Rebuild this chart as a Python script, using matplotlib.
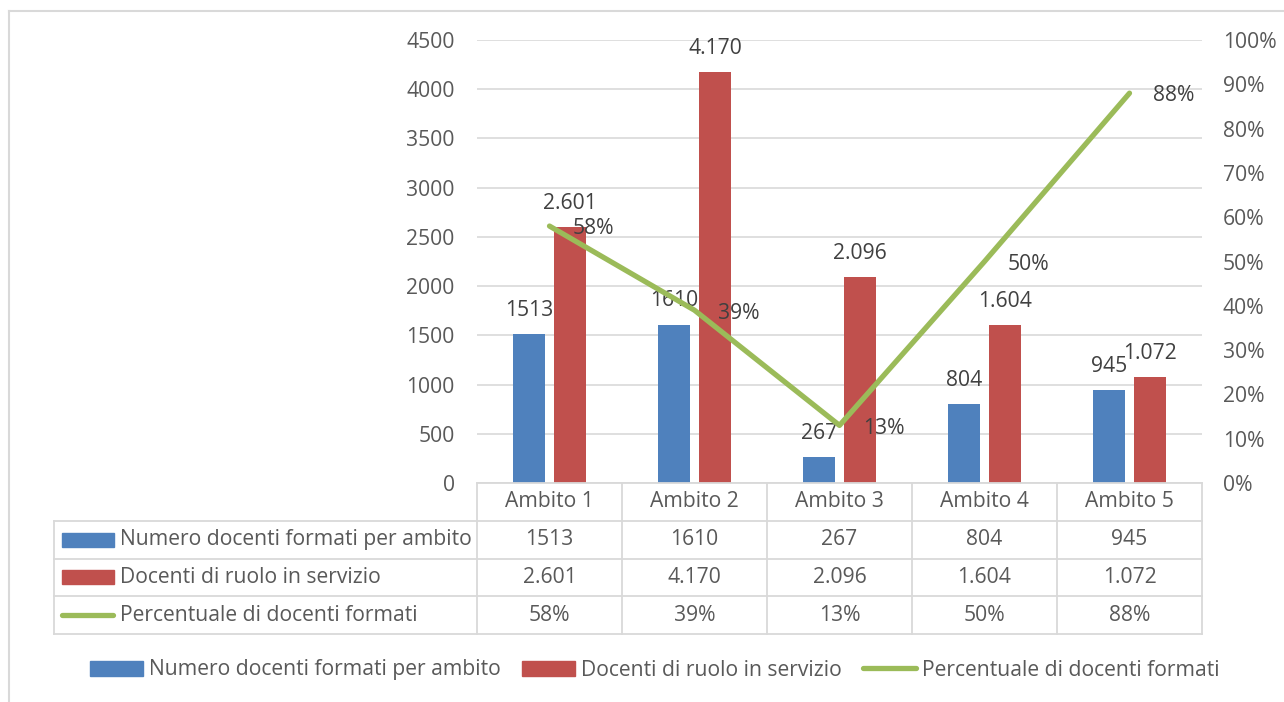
import matplotlib
matplotlib.use("Agg")
import matplotlib.pyplot as plt
from matplotlib.patches import Rectangle
from matplotlib.lines import Line2D
from matplotlib.ticker import FuncFormatter
import numpy as np

categorie = ["Ambito 1", "Ambito 2", "Ambito 3", "Ambito 4", "Ambito 5"]
docenti_formati = [1513, 1610, 267, 804, 945]
docenti_ruolo = [2601, 4170, 2096, 1604, 1072]
percentuale = [0.58, 0.39, 0.13, 0.50, 0.88]

nome_formati = "Numero docenti formati per ambito"
nome_ruolo = "Docenti di ruolo in servizio"
nome_perc = "Percentuale di docenti formati"

BLUE = "#4F81BD"
RED = "#C0504D"
GREEN = "#9BBB59"
GRID = "#D9D9D9"
TXT = "#595959"
LBL = "#404040"

plt.rcParams["font.family"] = ["Open Sans", "DejaVu Sans"]
plt.rcParams["font.size"] = 15.2

W, H = 1284, 702
fig = plt.figure(figsize=(W / 100, H / 100), dpi=100)


def thousands(v):
    return f"{v:,}".replace(",", ".")


# main plot area (pixels: x 477..1202, y 40..483)
ax = fig.add_axes([477 / W, 1 - 483 / H, (1202 - 477) / W, (483 - 40) / H])
x = np.arange(len(categorie))
bw = 0.22
off = 0.141
ax.bar(x - off, docenti_formati, bw, color=BLUE, zorder=2)
ax.bar(x + off, docenti_ruolo, bw, color=RED, zorder=2)
ax.set_xlim(-0.5, 4.5)
ax.set_ylim(0, 4500)
ax.set_yticks(np.arange(0, 4501, 500))
ax.set_xticks([])
ax.grid(axis="y", color=GRID, lw=1.2)
ax.set_axisbelow(True)
ax.tick_params(axis="y", length=0, pad=16, labelcolor=TXT)
for s in ax.spines.values():
    s.set_visible(False)

for xi, v in zip(x, docenti_formati):
    ax.annotate(str(v), (xi - off, v), xytext=(0, 13), textcoords="offset points",
                ha="center", va="baseline", color=LBL, zorder=5)
for xi, v in zip(x, docenti_ruolo):
    ax.annotate(thousands(v), (xi + off, v), xytext=(0, 13), textcoords="offset points",
                ha="center", va="baseline", color=LBL, zorder=5)

ax2 = ax.twinx()
ax2.plot(x, percentuale, color=GREEN, lw=3.8, solid_capstyle="round", zorder=3)
ax2.set_ylim(0, 1)
ax2.set_yticks(np.arange(0, 1.01, 0.1))
ax2.yaxis.set_major_formatter(FuncFormatter(lambda v, p: f"{round(v * 100)}%"))
ax2.tick_params(axis="y", length=0, pad=15, labelcolor=TXT)
for s in ax2.spines.values():
    s.set_visible(False)
for xi, p in zip(x, percentuale):
    ax2.annotate(f"{round(p * 100)}%", (xi, p), xytext=(17, -6), textcoords="offset points",
                 ha="left", va="baseline", color=LBL, zorder=5)

# data table (pixels: x 54..1202, y 483..634)
tab = fig.add_axes([54 / W, 1 - 634 / H, (1202 - 54) / W, (634 - 483) / H])
left = -0.5 - (477 - 54) / 145
tab.set_xlim(left, 4.5)
tab.set_ylim(4, 0)
tab.axis("off")


def tx(px):
    return -0.5 + (px - 477) / 145


lw_t = 1.3
for r in range(1, 5):
    tab.plot([left, 4.5], [r, r], color=GRID, lw=lw_t, clip_on=False)
tab.plot([-0.5, 4.5], [0, 0], color=GRID, lw=lw_t, clip_on=False)
tab.plot([left, left], [1, 4], color=GRID, lw=lw_t, clip_on=False)
for c in np.arange(-0.5, 4.6, 1):
    tab.plot([c, c], [0, 4], color=GRID, lw=lw_t, clip_on=False)

for i, cat in enumerate(categorie):
    tab.text(i, 0.5, cat, ha="center", va="center", color=TXT)
    tab.text(i, 1.5, str(docenti_formati[i]), ha="center", va="center", color=TXT)
    tab.text(i, 2.5, thousands(docenti_ruolo[i]), ha="center", va="center", color=TXT)
    tab.text(i, 3.5, f"{round(percentuale[i] * 100)}%", ha="center", va="center", color=TXT)

kh = 14 / 37.75
tab.add_patch(Rectangle((tx(62), 1.5 - kh / 2), tx(114) - tx(62), kh, color=BLUE, clip_on=False))
tab.add_patch(Rectangle((tx(62), 2.5 - kh / 2), tx(114) - tx(62), kh, color=RED, clip_on=False))
tab.plot([tx(62), tx(113)], [3.5, 3.5], color=GREEN, lw=3.8, solid_capstyle="round", clip_on=False)
tab.text(tx(120), 1.5, nome_formati, ha="left", va="center", color=TXT)
tab.text(tx(120), 2.5, nome_ruolo, ha="left", va="center", color=TXT)
tab.text(tx(120), 3.5, nome_perc, ha="left", va="center", color=TXT)

# bottom legend
handles = [Rectangle((0, 0), 1, 1, color=BLUE), Rectangle((0, 0), 1, 1, color=RED),
           Line2D([], [], color=GREEN, lw=3.8, solid_capstyle="round")]
fig.legend(handles, [nome_formati, nome_ruolo, nome_perc], loc="center",
           bbox_to_anchor=(0.51, 1 - 670 / H), ncol=3, frameon=False,
           handlelength=2.5, handletextpad=0.3, columnspacing=1.0, labelcolor=TXT)

# chart border (only top and left visible)
fig.add_artist(Line2D([9 / W, 1], [1 - 10.5 / H, 1 - 10.5 / H], color=GRID, lw=1.5))
fig.add_artist(Line2D([9 / W, 9 / W], [0, 1 - 10.5 / H], color=GRID, lw=1.5))

fig.savefig("out.png", dpi=100, facecolor="white")
